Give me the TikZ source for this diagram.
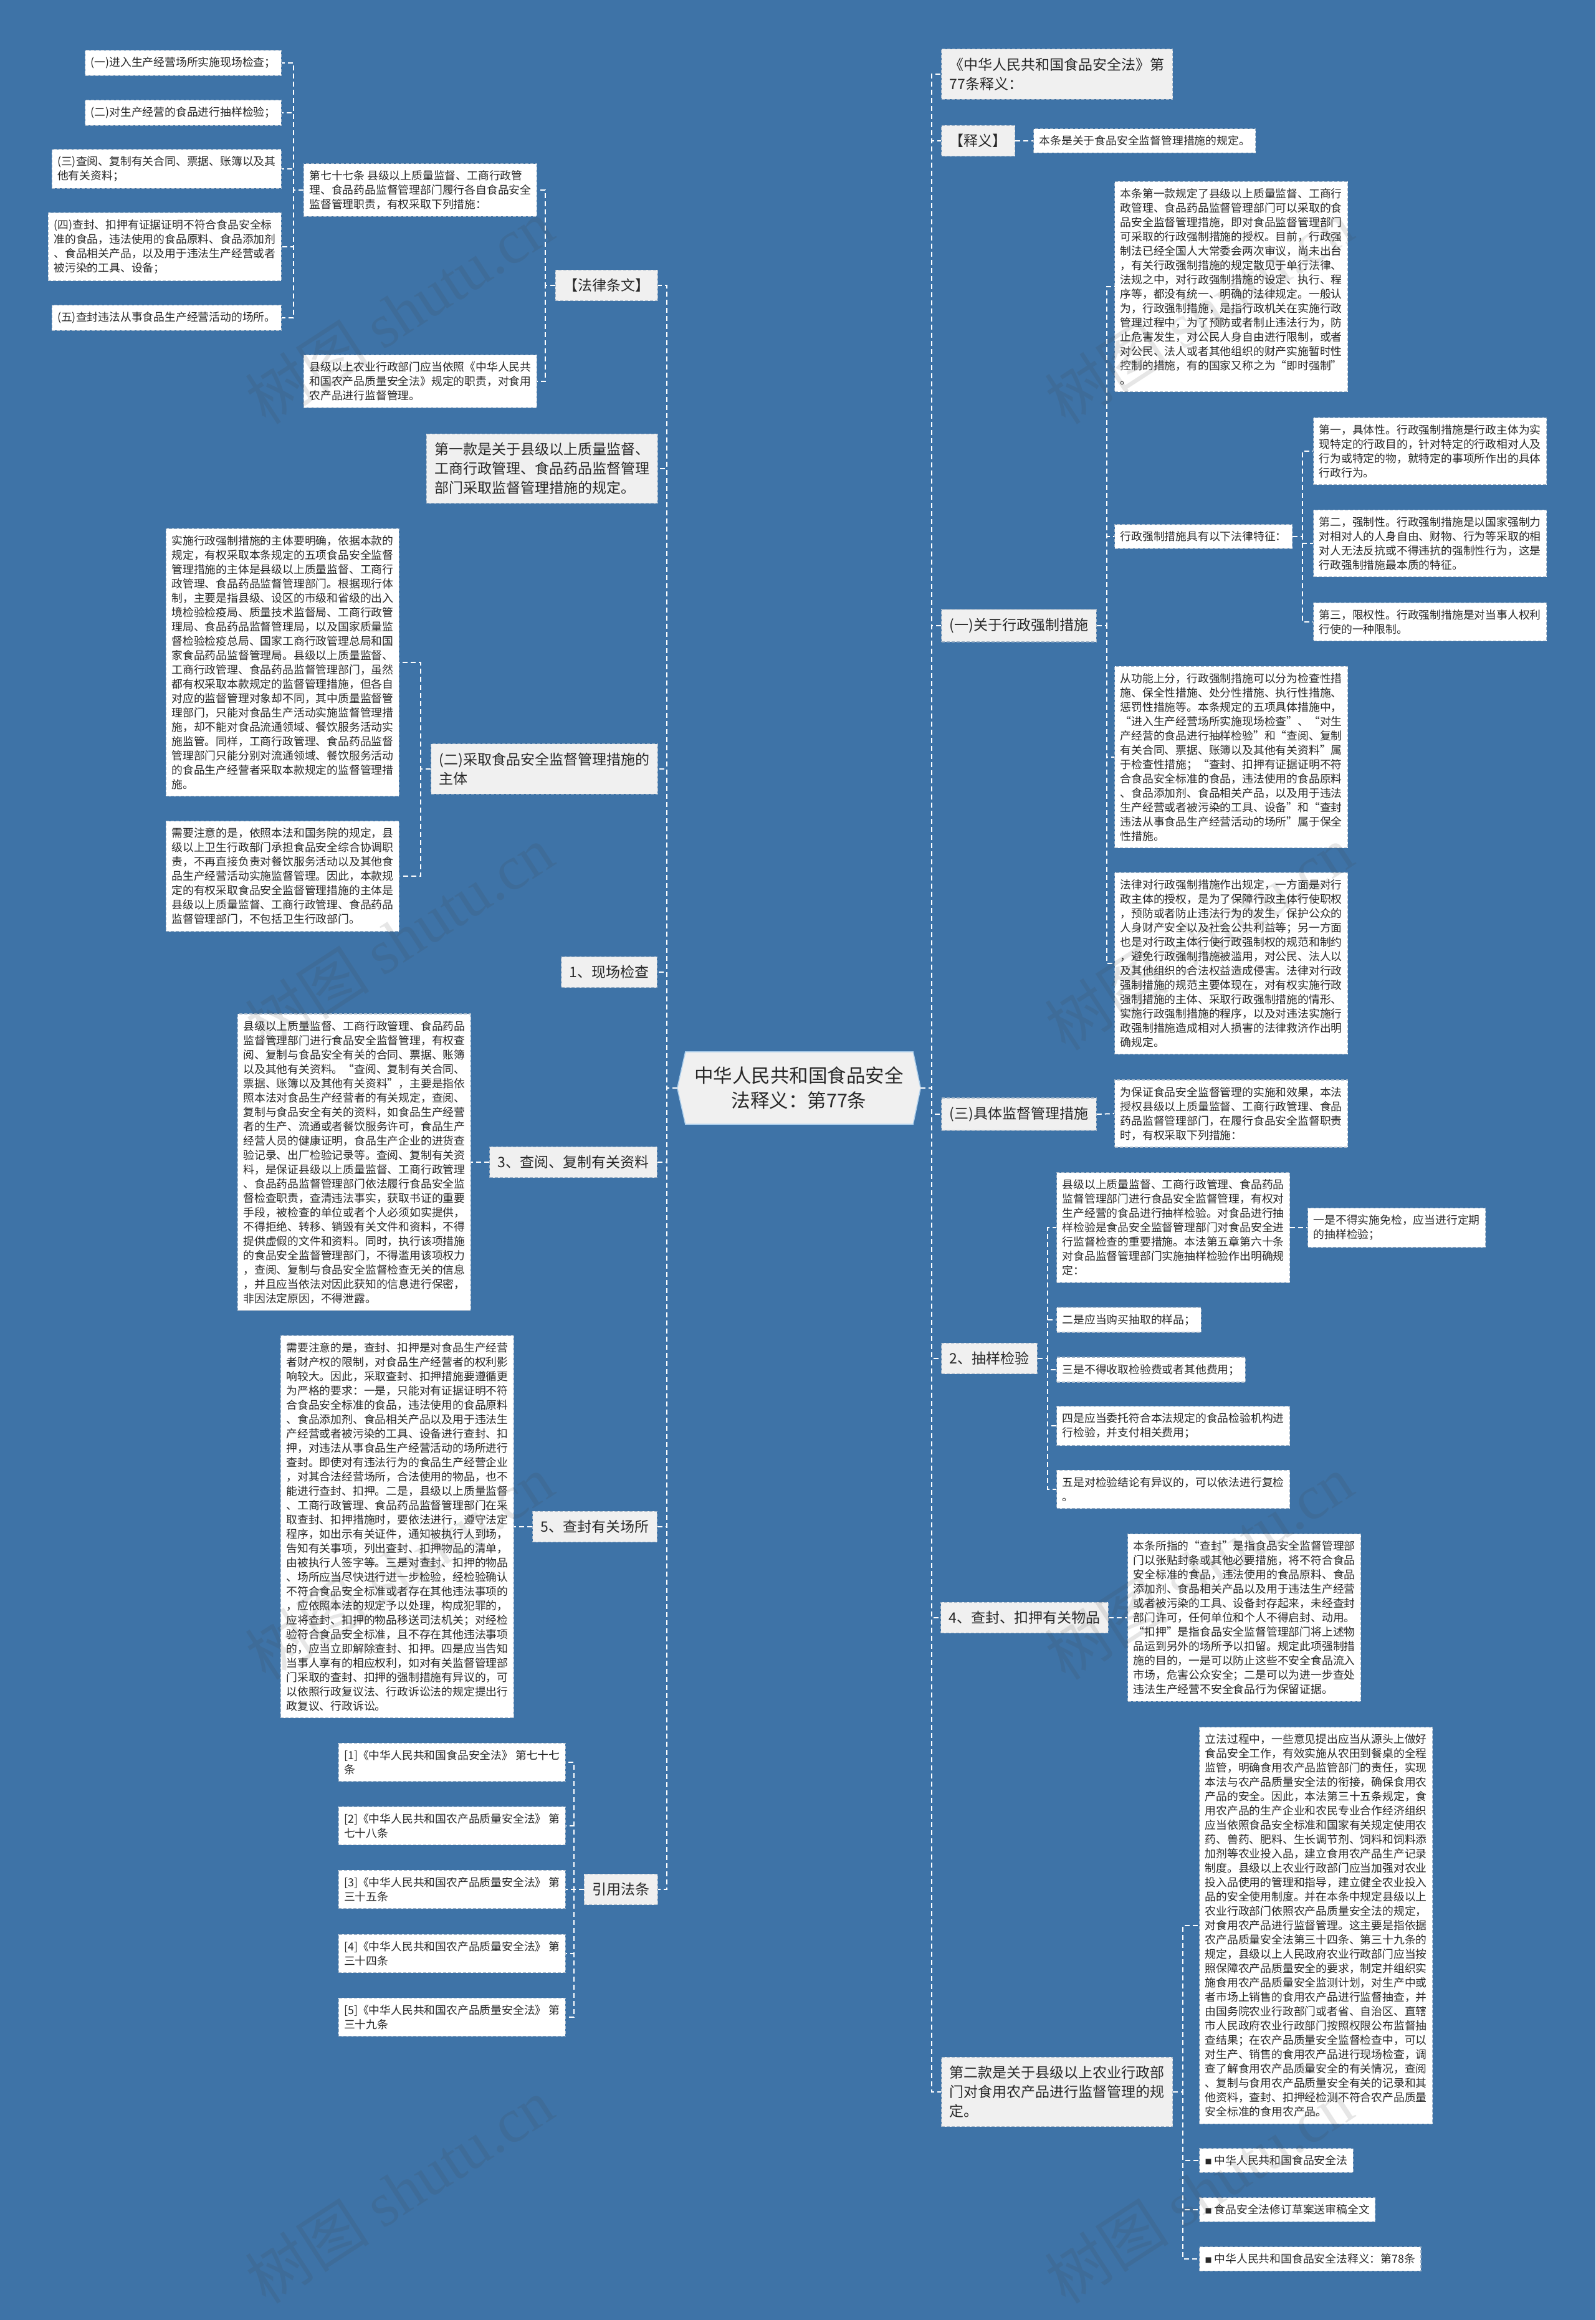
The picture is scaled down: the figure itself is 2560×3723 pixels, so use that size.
\documentclass[tikz,border=0pt]{standalone}
\usepackage{fontspec}
\setmainfont{Noto Sans CJK SC}
\newfontfamily\wmserif{Liberation Serif}
\usetikzlibrary{backgrounds}
\definecolor{bgblue}{RGB}{62,115,167}
\definecolor{boxgray}{RGB}{240,240,240}
\definecolor{boxline}{RGB}{165,182,200}
\definecolor{rootline}{RGB}{175,208,236}
\definecolor{txt}{RGB}{40,40,40}
\begin{document}
\begin{tikzpicture}[x=1pt,y=-1pt,
  leaf/.style={draw=boxline, dash pattern=on 5pt off 3pt, line width=1.2pt, fill=white,
    align=left, inner xsep=9pt, inner ysep=11pt, text=txt,
    font=\fontsize{17.8}{23}\selectfont},
  branch/.style={draw=boxline, dash pattern=on 5pt off 3pt, line width=1.2pt, fill=boxgray,
    align=left, inner xsep=13pt, inner ysep=14pt, text=txt,
    font=\fontsize{23}{31}\selectfont},
  conn/.style={draw=white, line width=2pt, dash pattern=on 8pt off 5pt},
  wm/.style={rotate=33, text=black!75, text opacity=0.13, font=\fontsize{100}{100}\selectfont}
]
\begin{pgfonlayer}{background}
\fill[bgblue] (0,0) rectangle (2560,3723);
\end{pgfonlayer}
\useasboundingbox (0,0) rectangle (2560,3723);

% ---------- root ----------
\node[align=center, minimum width=390pt, minimum height=116pt, text=txt,
  font=\fontsize{30.5}{40}\selectfont] (root) at (1282,1746) {中华人民共和国食品安全\\法释义：第77条};
\begin{pgfonlayer}{background}
\filldraw[fill=boxgray, draw=rootline, line width=1.5pt]
  (root.west) -- ([xshift=13pt]root.north west) -- ([xshift=-12pt]root.north east)
  -- (root.east) -- ([xshift=-12pt]root.south east) -- ([xshift=13pt]root.south west) -- cycle;
\end{pgfonlayer}

% ---------- left side ----------
\node[leaf, anchor=east] (A1) at (452,101) {(一)进入生产经营场所实施现场检查；};
\node[leaf, anchor=east] (A2) at (452,181) {(二)对生产经营的食品进行抽样检验；};
\node[leaf, anchor=east] (A3) at (452,271) {(三)查阅、复制有关合同、票据、账簿以及其\\他有关资料；};
\node[leaf, anchor=east] (A4) at (452,396) {(四)查封、扣押有证据证明不符合食品安全标\\准的食品，违法使用的食品原料、食品添加剂\\、食品相关产品，以及用于违法生产经营或者\\被污染的工具、设备；};
\node[leaf, anchor=east] (A5) at (452,510) {(五)查封违法从事食品生产经营活动的场所。};

\node[leaf, anchor=east] (B1) at (862,305) {第七十七条~县级以上质量监督、工商行政管\\理、食品药品监督管理部门履行各自食品安全\\监督管理职责，有权采取下列措施：};
\node[leaf, anchor=east] (B2) at (862,612) {县级以上农业行政部门应当依照《中华人民共\\和国农产品质量安全法》规定的职责，对食用\\农产品进行监督管理。};

\node[branch, anchor=east] (C1) at (1056,458) {【法律条文】};
\node[branch, anchor=east] (C2) at (1056,752) {第一款是关于县级以上质量监督、\\工商行政管理、食品药品监督管理\\部门采取监督管理措施的规定。};
\node[branch, anchor=east] (C3) at (1056,1234) {(二)采取食品安全监督管理措施的\\主体};
\node[branch, anchor=east] (C4) at (1055,1560) {1、现场检查};
\node[branch, anchor=east] (C5) at (1055,1865) {3、查阅、复制有关资料};
\node[branch, anchor=east] (C6) at (1055,2450) {5、查封有关场所};
\node[branch, anchor=east] (C7) at (1056,3032) {引用法条};

\node[leaf, anchor=east] (D1) at (641,1063) {实施行政强制措施的主体要明确，依据本款的\\规定，有权采取本条规定的五项食品安全监督\\管理措施的主体是县级以上质量监督、工商行\\政管理、食品药品监督管理部门。根据现行体\\制，主要是指县级、设区的市级和省级的出入\\境检验检疫局、质量技术监督局、工商行政管\\理局、食品药品监督管理局，以及国家质量监\\督检验检疫总局、国家工商行政管理总局和国\\家食品药品监督管理局。县级以上质量监督、\\工商行政管理、食品药品监督管理部门，虽然\\都有权采取本款规定的监督管理措施，但各自\\对应的监督管理对象却不同，其中质量监督管\\理部门，只能对食品生产活动实施监督管理措\\施，却不能对食品流通领域、餐饮服务活动实\\施监管。同样，工商行政管理、食品药品监督\\管理部门只能分别对流通领域、餐饮服务活动\\的食品生产经营者采取本款规定的监督管理措\\施。};
\node[leaf, anchor=east] (D2) at (641,1406) {需要注意的是，依照本法和国务院的规定，县\\级以上卫生行政部门承担食品安全综合协调职\\责，不再直接负责对餐饮服务活动以及其他食\\品生产经营活动实施监督管理。因此，本款规\\定的有权采取食品安全监督管理措施的主体是\\县级以上质量监督、工商行政管理、食品药品\\监督管理部门，不包括卫生行政部门。};

\node[leaf, anchor=east] (E1) at (756,1865) {县级以上质量监督、工商行政管理、食品药品\\监督管理部门进行食品安全监督管理，有权查\\阅、复制与食品安全有关的合同、票据、账簿\\以及其他有关资料。“查阅、复制有关合同、\\票据、账簿以及其他有关资料”，主要是指依\\照本法对食品生产经营者的有关规定，查阅、\\复制与食品安全有关的资料，如食品生产经营\\者的生产、流通或者餐饮服务许可，食品生产\\经营人员的健康证明，食品生产企业的进货查\\验记录、出厂检验记录等。查阅、复制有关资\\料，是保证县级以上质量监督、工商行政管理\\、食品药品监督管理部门依法履行食品安全监\\督检查职责，查清违法事实，获取书证的重要\\手段，被检查的单位或者个人必须如实提供，\\不得拒绝、转移、销毁有关文件和资料，不得\\提供虚假的文件和资料。同时，执行该项措施\\的食品安全监督管理部门，不得滥用该项权力\\，查阅、复制与食品安全监督检查无关的信息\\，并且应当依法对因此获知的信息进行保密，\\非因法定原因，不得泄露。};

\node[leaf, anchor=east] (F1) at (825,2450) {需要注意的是，查封、扣押是对食品生产经营\\者财产权的限制，对食品生产经营者的权利影\\响较大。因此，采取查封、扣押措施要遵循更\\为严格的要求：一是，只能对有证据证明不符\\合食品安全标准的食品，违法使用的食品原料\\、食品添加剂、食品相关产品以及用于违法生\\产经营或者被污染的工具、设备进行查封、扣\\押，对违法从事食品生产经营活动的场所进行\\查封。即使对有违法行为的食品生产经营企业\\，对其合法经营场所，合法使用的物品，也不\\能进行查封、扣押。二是，县级以上质量监督\\、工商行政管理、食品药品监督管理部门在采\\取查封、扣押措施时，要依法进行，遵守法定\\程序，如出示有关证件，通知被执行人到场，\\告知有关事项，列出查封、扣押物品的清单，\\由被执行人签字等。三是对查封、扣押的物品\\、场所应当尽快进行进一步检验，经检验确认\\不符合食品安全标准或者存在其他违法事项的\\，应依照本法的规定予以处理，构成犯罪的，\\应将查封、扣押的物品移送司法机关；对经检\\验符合食品安全标准，且不存在其他违法事项\\的，应当立即解除查封、扣押。四是应当告知\\当事人享有的相应权利，如对有关监督管理部\\门采取的查封、扣押的强制措施有异议的，可\\以依照行政复议法、行政诉讼法的规定提出行\\政复议、行政诉讼。};

\node[leaf, anchor=east] (G1) at (908,2828) {[1]《中华人民共和国食品安全法》~第七十七\\条};
\node[leaf, anchor=east] (G2) at (908,2930) {[2]《中华人民共和国农产品质量安全法》~第\\七十八条};
\node[leaf, anchor=east] (G3) at (908,3032) {[3]《中华人民共和国农产品质量安全法》~第\\三十五条};
\node[leaf, anchor=east] (G4) at (908,3135) {[4]《中华人民共和国农产品质量安全法》~第\\三十四条};
\node[leaf, anchor=east] (G5) at (908,3237) {[5]《中华人民共和国农产品质量安全法》~第\\三十九条};

% ---------- right side ----------
\node[branch, anchor=west] (H1) at (1510,119) {《中华人民共和国食品安全法》第\\77条释义：};
\node[branch, anchor=west] (H2) at (1510,226) {【释义】};
\node[leaf, anchor=west] (H2a) at (1658,226) {本条是关于食品安全监督管理措施的规定。};

\node[branch, anchor=west] (I2) at (1510,1004) {(一)关于行政强制措施};
\node[leaf, anchor=west] (I1) at (1788,460) {本条第一款规定了县级以上质量监督、工商行\\政管理、食品药品监督管理部门可以采取的食\\品安全监督管理措施，即对食品监督管理部门\\可采取的行政强制措施的授权。目前，行政强\\制法已经全国人大常委会两次审议，尚未出台\\，有关行政强制措施的规定散见于单行法律、\\法规之中，对行政强制措施的设定、执行、程\\序等，都没有统一、明确的法律规定。一般认\\为，行政强制措施，是指行政机关在实施行政\\管理过程中，为了预防或者制止违法行为，防\\止危害发生，对公民人身自由进行限制，或者\\对公民、法人或者其他组织的财产实施暂时性\\控制的措施，有的国家又称之为“即时强制”\\。};
\node[leaf, anchor=west] (J1) at (1788,861) {行政强制措施具有以下法律特征：};
\node[leaf, anchor=west] (K1) at (2107,724) {第一，具体性。行政强制措施是行政主体为实\\现特定的行政目的，针对特定的行政相对人及\\行为或特定的物，就特定的事项所作出的具体\\行政行为。};
\node[leaf, anchor=west] (K2) at (2107,872) {第二，强制性。行政强制措施是以国家强制力\\对相对人的人身自由、财物、行为等采取的相\\对人无法反抗或不得违抗的强制性行为，这是\\行政强制措施最本质的特征。};
\node[leaf, anchor=west] (K3) at (2107,998) {第三，限权性。行政强制措施是对当事人权利\\行使的一种限制。};
\node[leaf, anchor=west] (L1) at (1788,1215) {从功能上分，行政强制措施可以分为检查性措\\施、保全性措施、处分性措施、执行性措施、\\惩罚性措施等。本条规定的五项具体措施中，\\“进入生产经营场所实施现场检查”、“对生\\产经营的食品进行抽样检验”和“查阅、复制\\有关合同、票据、账簿以及其他有关资料”属\\于检查性措施；“查封、扣押有证据证明不符\\合食品安全标准的食品，违法使用的食品原料\\、食品添加剂、食品相关产品，以及用于违法\\生产经营或者被污染的工具、设备”和“查封\\违法从事食品生产经营活动的场所”属于保全\\性措施。};
\node[leaf, anchor=west] (L2) at (1788,1546) {法律对行政强制措施作出规定，一方面是对行\\政主体的授权，是为了保障行政主体行使职权\\，预防或者防止违法行为的发生，保护公众的\\人身财产安全以及社会公共利益等；另一方面\\也是对行政主体行使行政强制权的规范和制约\\，避免行政强制措施被滥用，对公民、法人以\\及其他组织的合法权益造成侵害。法律对行政\\强制措施的规范主要体现在，对有权实施行政\\强制措施的主体、采取行政强制措施的情形、\\实施行政强制措施的程序，以及对违法实施行\\政强制措施造成相对人损害的法律救济作出明\\确规定。};

\node[branch, anchor=west] (I3) at (1510,1788) {(三)具体监督管理措施};
\node[leaf, anchor=west] (I3a) at (1788,1787) {为保证食品安全监督管理的实施和效果，本法\\授权县级以上质量监督、工商行政管理、食品\\药品监督管理部门，在履行食品安全监督职责\\时，有权采取下列措施：};

\node[branch, anchor=west] (I4) at (1510,2180) {2、抽样检验};
\node[leaf, anchor=west] (M1) at (1695,1970) {县级以上质量监督、工商行政管理、食品药品\\监督管理部门进行食品安全监督管理，有权对\\生产经营的食品进行抽样检验。对食品进行抽\\样检验是食品安全监督管理部门对食品安全进\\行监督检查的重要措施。本法第五章第六十条\\对食品监督管理部门实施抽样检验作出明确规\\定：};
\node[leaf, anchor=west] (M1a) at (2098,1970) {一是不得实施免检，应当进行定期\\的抽样检验；};
\node[leaf, anchor=west] (M2) at (1695,2118) {二是应当购买抽取的样品；};
\node[leaf, anchor=west] (M3) at (1695,2198) {三是不得收取检验费或者其他费用；};
\node[leaf, anchor=west] (M4) at (1695,2288) {四是应当委托符合本法规定的食品检验机构进\\行检验，并支付相关费用；};
\node[leaf, anchor=west] (M5) at (1695,2390) {五是对检验结论有异议的，可以依法进行复检\\。};

\node[branch, anchor=west] (I5) at (1509,2596) {4、查封、扣押有关物品};
\node[leaf, anchor=west] (I5a) at (1809,2596) {本条所指的“查封”是指食品安全监督管理部\\门以张贴封条或其他必要措施，将不符合食品\\安全标准的食品，违法使用的食品原料、食品\\添加剂、食品相关产品以及用于违法生产经营\\或者被污染的工具、设备封存起来，未经查封\\部门许可，任何单位和个人不得启封、动用。\\“扣押”是指食品安全监督管理部门将上述物\\品运到另外的场所予以扣留。规定此项强制措\\施的目的，一是可以防止这些不安全食品流入\\市场，危害公众安全；二是可以为进一步查处\\违法生产经营不安全食品行为保留证据。};

\node[branch, anchor=west] (I6) at (1510,3357) {第二款是关于县级以上农业行政部\\门对食用农产品进行监督管理的规\\定。};
\node[leaf, anchor=west] (N1) at (1924,3090) {立法过程中，一些意见提出应当从源头上做好\\食品安全工作，有效实施从农田到餐桌的全程\\监管，明确食用农产品监管部门的责任，实现\\本法与农产品质量安全法的衔接，确保食用农\\产品的安全。因此，本法第三十五条规定，食\\用农产品的生产企业和农民专业合作经济组织\\应当依照食品安全标准和国家有关规定使用农\\药、兽药、肥料、生长调节剂、饲料和饲料添\\加剂等农业投入品，建立食用农产品生产记录\\制度。县级以上农业行政部门应当加强对农业\\投入品使用的管理和指导，建立健全农业投入\\品的安全使用制度。并在本条中规定县级以上\\农业行政部门依照农产品质量安全法的规定，\\对食用农产品进行监督管理。这主要是指依据\\农产品质量安全法第三十四条、第三十九条的\\规定，县级以上人民政府农业行政部门应当按\\照保障农产品质量安全的要求，制定并组织实\\施食用农产品质量安全监测计划，对生产中或\\者市场上销售的食用农产品进行监督抽查，并\\由国务院农业行政部门或者省、自治区、直辖\\市人民政府农业行政部门按照权限公布监督抽\\查结果；在农产品质量安全监督检查中，可以\\对生产、销售的食用农产品进行现场检查，调\\查了解食用农产品质量安全的有关情况，查阅\\、复制与食用农产品质量安全有关的记录和其\\他资料，查封、扣押经检测不符合农产品质量\\安全标准的食用农产品。};
\node[leaf, anchor=west] (N2) at (1924,3467) {{\fontsize{11}{11}\selectfont ■}~中华人民共和国食品安全法};
\node[leaf, anchor=west] (N3) at (1924,3546) {{\fontsize{11}{11}\selectfont ■}~食品安全法修订草案送审稿全文};
\node[leaf, anchor=west] (N4) at (1924,3625) {{\fontsize{11}{11}\selectfont ■}~中华人民共和国食品安全法释义：第78条};

% ---------- connectors ----------
\foreach \n in {C1,C2,C3,C4,C5,C6,C7} \draw[conn] (root.west) -- ++(-17,0) |- (\n.east);
\foreach \n in {B1,B2} \draw[conn] (C1.west) -- ++(-16,0) |- (\n.east);
\foreach \n in {A1,A2,A3,A4,A5} \draw[conn] (B1.west) -- ++(-16,0) |- (\n.east);
\foreach \n in {D1,D2} \draw[conn] (C3.west) -- ++(-16,0) |- (\n.east);
\draw[conn] (C5.west) -- (E1.east);
\draw[conn] (C6.west) -- (F1.east);
\foreach \n in {G1,G2,G3,G4,G5} \draw[conn] (C7.west) -- ++(-16,0) |- (\n.east);

\foreach \n in {H1,H2,I2,I3,I4,I5,I6} \draw[conn] (root.east) -- ++(18,0) |- (\n.west);
\draw[conn] (H2.east) -- (H2a.west);
\foreach \n in {I1,J1,L1,L2} \draw[conn] (I2.east) -- ++(16,0) |- (\n.west);
\foreach \n in {K1,K2,K3} \draw[conn] (J1.east) -- ++(16,0) |- (\n.west);
\draw[conn] (I3.east) -- (I3a.west);
\foreach \n in {M1,M2,M3,M4,M5} \draw[conn] (I4.east) -- ++(16,0) |- (\n.west);
\draw[conn] (M1.east) -- (M1a.west);
\draw[conn] (I5.east) -- (I5a.west);
\foreach \n in {N1,N2,N3,N4} \draw[conn] (I6.east) -- ++(16,0) |- (\n.west);

% ---------- watermarks ----------
\foreach \y [count=\k] in {500,1505,2515,3515} {
  \node[wm] (wmL\k) at (641,\y) {树图 {\wmserif shutu.cn}};
  \node[wm] (wmR\k) at (1924,\y) {树图 {\wmserif shutu.cn}};
}
\end{tikzpicture}
\end{document}
